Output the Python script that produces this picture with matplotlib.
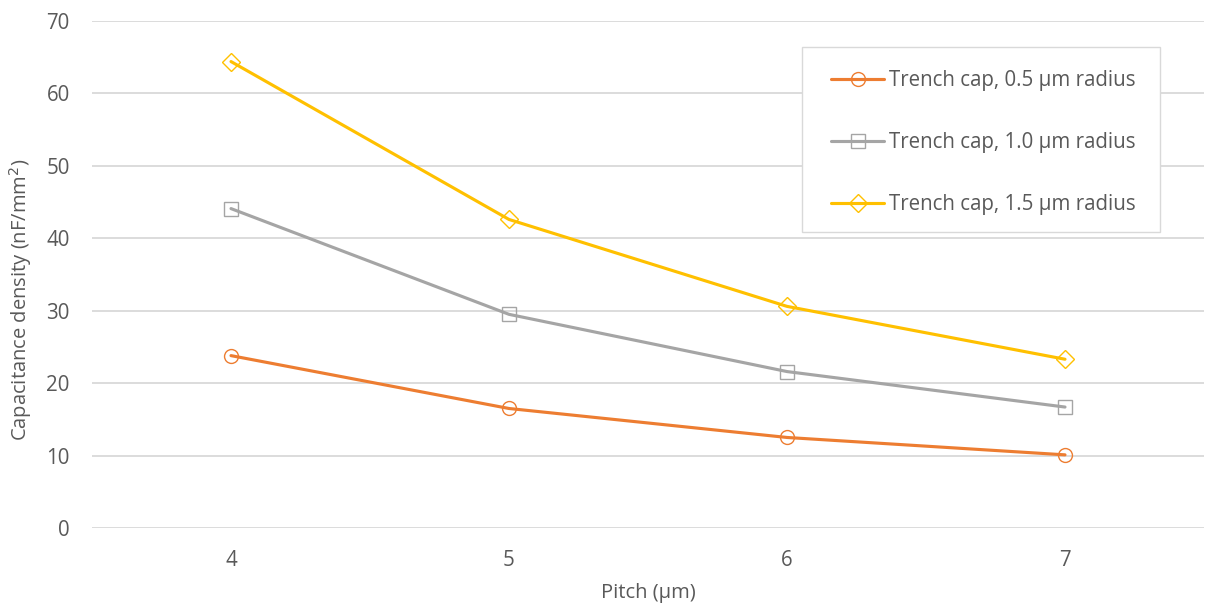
import matplotlib
matplotlib.use("Agg")
import matplotlib.pyplot as plt
from matplotlib.patches import Rectangle
import numpy as np

categories = ["4", "5", "6", "7"]
series_names = ["Trench cap, 0.5 µm radius", "Trench cap, 1.0 µm radius", "Trench cap, 1.5 µm radius"]
r05 = [23.8, 16.5, 12.5, 10.1]
r10 = [44.1, 29.5, 21.6, 16.7]
r15 = [64.4, 42.6, 30.6, 23.3]
colors = ["#ED7D31", "#A5A5A5", "#FFC000"]
markers = ["o", "s", "D"]
y_ticks = [0, 10, 20, 30, 40, 50, 60, 70]

plt.rcParams['font.family'] = ['Open Sans', 'DejaVu Sans']
text_color = "#595959"
grid_color = "#d9d9d9"
W, H = 1206, 608

fig = plt.figure(figsize=(W/100, H/100), dpi=100)
ax = fig.add_axes([92/W, (H-528)/H, 1112/W, (528-21)/H])

x = np.arange(len(categories))
for vals, c, m, name in zip([r05, r10, r15], colors, markers, series_names):
    ms = 9.5 if m == "D" else 10
    ax.plot(x, vals, color=c, lw=2.25, marker=m, markersize=ms, markerfacecolor="none",
            markeredgecolor=c, markeredgewidth=1.0, label=name, zorder=3,
            solid_capstyle="round", solid_joinstyle="round")

ax.set_xlim(-0.5, len(categories) - 0.5)
ax.set_ylim(0, 70)
ax.set_yticks(y_ticks)
ax.set_xticks(x)
ax.set_xticklabels(categories)
ax.grid(axis="y", color=grid_color, lw=1.3)
ax.set_axisbelow(True)
for s in ax.spines.values():
    s.set_visible(False)
ax.tick_params(axis="both", length=0, labelsize=14.8, colors=text_color)
ax.tick_params(axis="y", pad=16)
ax.tick_params(axis="x", pad=16)

ax.set_xlabel("Pitch (µm)", fontsize=14.5, color=text_color)
ax.set_ylabel("Capacitance density (nF/mm$^2$)", fontsize=14.5, color=text_color)
ax.xaxis.set_label_coords(0.5, -(583 - 528) / 507)
ax.yaxis.set_label_coords(-(92 - 34) / 1112, (528 - 300) / 507)

# legend frame
fig.patches.append(Rectangle((802/W, (H-232)/H), (1160-802)/W, (232-47)/H,
                             transform=fig.transFigure, facecolor="white",
                             edgecolor=grid_color, lw=1.0, zorder=5))
leg = fig.legend(loc="upper left", bbox_to_anchor=(831/W, (H-70)/H),
                 fontsize=14.8, frameon=False, labelspacing=2.0,
                 handlelength=2.6, handletextpad=0.2, borderpad=0, borderaxespad=0)
leg.set_zorder(6)
for t in leg.get_texts():
    t.set_color(text_color)

fig.savefig("out.png", dpi=100)
